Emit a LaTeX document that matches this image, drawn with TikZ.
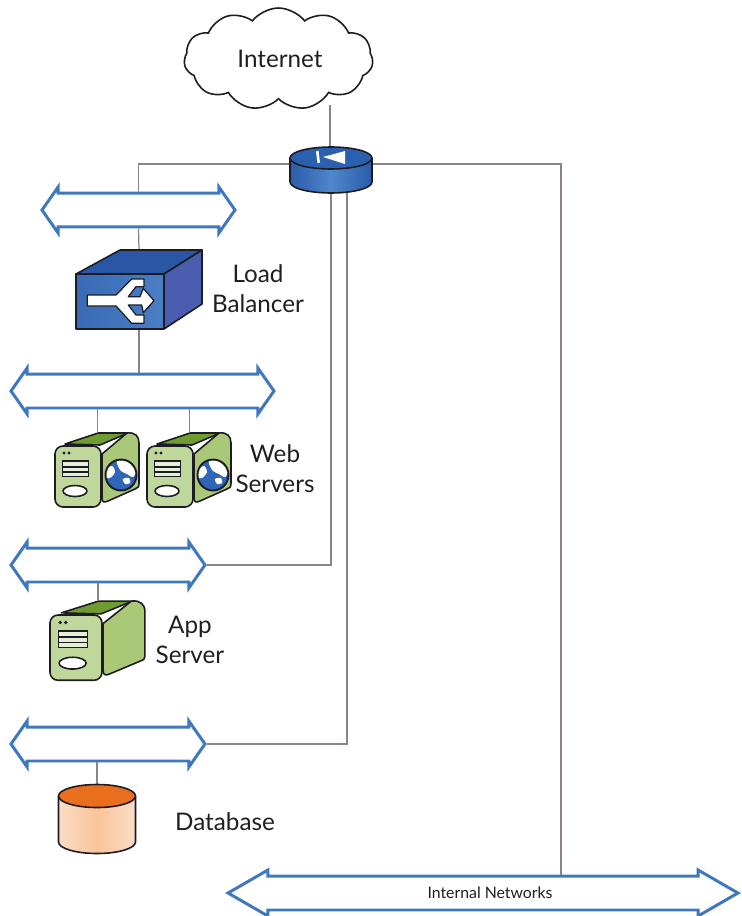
\documentclass[tikz,border=0pt]{standalone}
\usepackage{fontspec}
\setmainfont{Lato}
\usetikzlibrary{shapes.arrows,shapes.symbols}

\definecolor{wirecol}{HTML}{8C8484}
\definecolor{buscol}{HTML}{3F78BF}
\definecolor{inkcol}{HTML}{1C1C22}
\definecolor{txtcol}{HTML}{1F1F1F}
\definecolor{frontcol}{HTML}{BFD79B}
\definecolor{sidecol}{HTML}{A9C979}
\definecolor{topcol}{HTML}{6E9C30}
\definecolor{globecol}{HTML}{2F66B8}
\definecolor{routertop}{HTML}{2B60AE}
\definecolor{routeredge}{HTML}{2A5CA8}
\definecolor{routermid}{HTML}{4F86CC}
\definecolor{dbedge}{HTML}{FBDDC6}
\definecolor{dbmid}{HTML}{F9C49A}
\definecolor{dbtop}{HTML}{E96F1E}
\definecolor{lbtop}{HTML}{2A56A6}
\definecolor{lbside}{HTML}{4A5DAE}
\definecolor{lbfrontA}{HTML}{3A6AB6}
\definecolor{lbfrontB}{HTML}{4A7EC4}

\tikzset{
  wire/.style={draw=wirecol, line width=0.7pt},
  bus/.style={shape=double arrow, draw=buscol, fill=white, line width=1.7pt, inner sep=0pt,
    text height=0.34cm, text depth=0.28cm,
    minimum width=0.86cm, double arrow head extend=0.12cm, double arrow tip angle=110},
  label/.style={text=txtcol, font=\fontsize{13.8}{17}\selectfont, align=center, inner sep=0pt},
  outline/.style={draw=inkcol, line width=0.9pt, line join=round},
  pics/server/.style={code={
    \coordinate (-top) at (42.5,-13);
    \fill[topcol, outline] (10,-2) -- (43,-13) -- (73,-13) -- (45,-1) -- cycle;
    \path[fill=sidecol, outline] (47,8) -- (72,-13) .. controls (80,-14) and (84,-10) .. (84,-3)
      -- (84,37) .. controls (84,41) and (83,42) .. (80,43) -- (53,55) .. controls (49,57) and (47,56) .. (47,52) -- cycle;
    \path[fill=frontcol, outline, rounded corners=0.16cm] (0,0) rectangle (46,61);
    \fill[inkcol] (9,7) circle (1.7);
    \fill[inkcol] (14,7) circle (1.7);
    \fill[inkcol] (7,14) rectangle (34,31);
    \fill[frontcol!40] (8,16) rectangle (33,20);
    \fill[frontcol!40] (8,21.5) rectangle (33,25);
    \fill[frontcol!40] (8,26.5) rectangle (33,29.5);
    \path[fill=white, outline] (20,45) ellipse [x radius=12, y radius=5.5];
  }},
  pics/globe/.style={code={
    \path[fill=globecol] (66,29) circle (15.5);
    \begin{scope}
      \clip (66,29) circle (15.5);
      \fill[white] plot[smooth cycle] coordinates {(62,15) (72,15) (81,24) (78,31) (72,28) (66,25) (63,20)};
      \fill[white] plot[smooth cycle] coordinates {(51,24) (57,20) (60,26) (55,32) (50,31)};
      \fill[white] plot[smooth cycle] coordinates {(68,33) (74,32) (75,37) (70,38)};
    \end{scope}
    \path[draw=inkcol, line width=1.1pt] (66,29) circle (15.5);
  }},
}

\newcommand{\drum}[7]{
  \path[left color=#6, right color=#6, middle color=#7, outline]
    ({#1-#3},#2) -- ({#1-#3},{#2+#5}) arc (180:0:#3 and #4) -- ({#1+#3},#2) -- cycle;
}

\begin{document}
\begin{tikzpicture}[x=0.02cm, y=-0.02cm]
  \useasboundingbox (0,0) rectangle (741,916);

  % anchors on the router and the cloud
  \coordinate (routerTop) at (330,147);
  \coordinate (routerL) at (290,164);
  \coordinate (routerR) at (372,164);
  \coordinate (routerB1) at (331,192);
  \coordinate (routerB2) at (347,191);
  \coordinate (inetB) at (330,105);
  \coordinate (lbTop) at (139,250);
  \coordinate (lbBot) at (139,329);
  \coordinate (dbTop) at (97,785);

  \node[shape=cloud, cloud puffs=11, cloud puff arc=105, aspect=1.6, draw=inkcol, line width=0.9pt,
    minimum width=3.78cm, minimum height=2.04cm, inner sep=0pt] (inet) at (278.5,59) {};
  \node[label] (inetText) at (280,59) {Internet};

  \node[bus, minimum height=3.86cm] (bus1) at (138.5,210) {};
  \node[bus, minimum height=5.26cm] (bus2) at (142.5,391) {};
  \node[bus, minimum height=3.88cm] (bus3) at (108,565) {};
  \node[bus, minimum height=3.88cm] (bus4) at (108,744) {};
  \node[bus, minimum height=10.2cm, double arrow tip angle=60] (bus5) at (483,893) {};
  \node[text=txtcol, font=\fontsize{9}{10}\selectfont, inner sep=0pt] (bus5Text) at (490,893) {Internal Networks};

  \pic (web1) at (55,446) {server};
  \pic at (55,446) {globe};
  \pic (web2) at (147,446) {server};
  \pic at (147,446) {globe};
  \pic[xscale=1.13, yscale=1.07] (app) at (50,615) {server};

  \draw[wire] (inetB) -- (routerTop);
  \draw[wire] (routerL) -| (bus1.north);
  \draw[wire] (bus1.south) -- (lbTop);
  \draw[wire] (lbBot) -- (lbBot |- bus2.north);
  \draw[wire] (web1-top |- bus2.south) -- (web1-top);
  \draw[wire] (web2-top |- bus2.south) -- (web2-top);
  \draw[wire] (app-top |- bus3.south) -- (app-top);
  \draw[wire] (bus3.east) -| (routerB1);
  \draw[wire] (bus4.east) -| (routerB2);
  \draw[wire] (dbTop |- bus4.south) -- (dbTop);
  \draw[wire] (routerR) -| (561,0 |- bus5.north);

  % router
  \drum{331}{158}{41}{11}{24}{routeredge}{routermid}
  \path[fill=routertop, outline] (331,158) ellipse [x radius=41, y radius=11];
  \fill[white] (316,151.5) -- (318.5,150.5) -- (320,162.5) -- (317.5,163) -- cycle;
  \fill[white] (323,157) -- (345,151) -- (345,164) -- cycle;

  % load balancer
  \path[fill=lbtop, outline] (76,274) -- (120,250) -- (202,250) -- (164,274) -- cycle;
  \path[fill=lbside, outline] (164,274) -- (202,250) -- (202,304) -- (164,329) -- cycle;
  \path[left color=lbfrontA, right color=lbfrontB, outline] (76,274) rectangle (164,329);
  \path[fill=white, draw=inkcol, line width=0.7pt, line join=round]
    (87.3,295) -- (116,295) -- (131.7,279) -- (144,279) -- (144,286.7) -- (136,286.7) -- (128.3,296.7) -- (140,296.7)
    -- (143.3,288.3) -- (154,300.7) -- (143.3,312.7) -- (141.7,305) -- (128.3,305) -- (136,315) -- (144,315)
    -- (144,323.3) -- (131.7,323.3) -- (116,306) -- (87.3,306) -- cycle;

  % database
  \drum{97}{796}{38.5}{11.5}{46}{dbedge}{dbmid}
  \path[fill=dbtop, outline] (97,796) ellipse [x radius=38.5, y radius=11.5];

  \node[label] (lbText) at (258,289) {Load\\Balancer};
  \node[label] (webText) at (275,469) {Web\\Servers};
  \node[label] (appText) at (190,640) {App\\Server};
  \node[label] (dbText) at (225,822) {Database};
\end{tikzpicture}
\end{document}
